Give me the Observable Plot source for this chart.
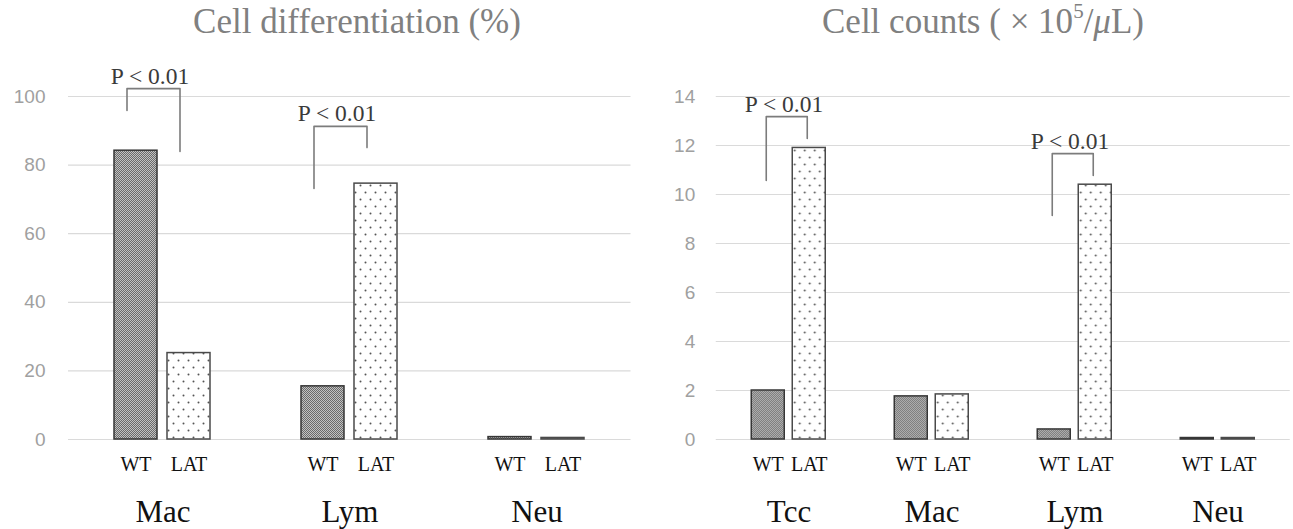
<!DOCTYPE html>
<html>
<head>
<meta charset="utf-8">
<script src="https://cdn.jsdelivr.net/npm/d3@7"></script>
<script src="https://cdn.jsdelivr.net/npm/@observablehq/plot@0.6"></script>
<style>
  html, body { margin: 0; padding: 0; background: #fff; }
  #root { position: relative; width: 1293px; height: 529px; overflow: hidden; }
  .panel { position: absolute; top: 0; height: 529px; }
  .panel svg { position: absolute; left: 0; top: 0; overflow: visible; }
  .title { position: absolute; top: 4px; transform: translateX(-50%); white-space: nowrap;
           font-family: "Liberation Serif", "DejaVu Serif", serif; font-size: 35px; line-height: 35px; color: #808080; }
  .title sup { font-size: 0.6em; vertical-align: 0.7em; line-height: 0; }
  svg.fgplot, svg.fgplot text { font-family: "Liberation Serif", "DejaVu Serif", serif !important; }
  svg.bgplot, svg.bgplot text { font-family: "Liberation Sans", Arial, sans-serif !important; }
</style>
</head>
<body>
<div id="root">
  <div class="title" style="left:357px">Cell differentiation (%)</div>
  <div class="title" style="left:983px">Cell counts ( × 10<sup>5</sup>/<i>μ</i>L)</div>
  <div class="panel" id="left" style="left:0px;width:646px"></div>
  <div class="panel" id="right" style="left:646px;width:647px"></div>
</div>
<svg width="0" height="0" style="position:absolute">
  <defs>
    <pattern id="wtFill" width="2" height="2" patternUnits="userSpaceOnUse">
      <rect width="2" height="2" fill="#c2c2c2"></rect>
      <rect width="1" height="1" fill="#6a6a6a"></rect>
      <rect x="1" y="1" width="1" height="1" fill="#6a6a6a"></rect>
    </pattern>
    <pattern id="latFill" width="10" height="14" patternUnits="userSpaceOnUse">
      <rect width="10" height="14" fill="#ffffff"></rect>
      <circle cx="2.5" cy="3.5" r="1" fill="#555555"></circle>
      <circle cx="7.5" cy="10.5" r="1" fill="#555555"></circle>
    </pattern>
  </defs>
</svg>
<script>
// ---------- data ----------
const groups = ["WT", "LAT"];
const pLabel = "P < 0.01";

const diffCategories = ["Mac", "Lym", "Neu"];
const diffWT  = [84.2, 15.5, 0.7];
const diffLAT = [25.2, 74.6, 0.45];
const diffTicks = [0, 20, 40, 60, 80, 100];
const diffBracketCats = ["Mac", "Lym"];
const diffBracketTop = [102.3, 91.3];
const diffBracketWTEnd = [95.9, 73.2];
const diffBracketLATEnd = [84.0, 85.1];

const countCategories = ["Tcc", "Mac", "Lym", "Neu"];
const countWT  = [2.0, 1.76, 0.41, 0.06];
const countLAT = [11.9, 1.84, 10.4, 0.06];
const countTicks = [0, 2, 4, 6, 8, 10, 12, 14];
const countBracketCats = ["Tcc", "Lym"];
const countBracketTop = [13.18, 11.67];
const countBracketWTEnd = [10.57, 9.14];
const countBracketLATEnd = [12.29, 10.78];

// ---------- helpers ----------
const SERIF = "Liberation Serif, DejaVu Serif, serif";
const SANS = "Liberation Sans, Arial, sans-serif";

function toRows(cats, wt, lat) {
  const rows = [];
  cats.forEach((c, i) => {
    rows.push({cat: c, group: "WT", value: wt[i]});
    rows.push({cat: c, group: "LAT", value: lat[i]});
  });
  return rows;
}
function toBrackets(cats, top, wtEnd, latEnd) {
  const pts = [];
  cats.forEach((c, i) => {
    pts.push({id: i, cat: c, group: "WT", y: wtEnd[i]});
    pts.push({id: i, cat: c, group: "WT", y: top[i]});
    pts.push({id: i, cat: c, group: "LAT", y: top[i]});
    pts.push({id: i, cat: c, group: "LAT", y: latEnd[i]});
  });
  return pts;
}

const H = 529, MT = 96, MB = 90;

function panel(el, cfg) {
  const rows = toRows(cfg.cats, cfg.wt, cfg.lat);
  const brackets = toBrackets(cfg.bcats, cfg.btop, cfg.bwt, cfg.blat);
  const labels = cfg.bcats.map((c, i) => ({cat: c, y: cfg.btop[i]}));

  // background: y axis + gridlines
  const bg = Plot.plot({
    className: "bgplot",
    width: cfg.width, height: H,
    marginTop: MT, marginBottom: MB, marginLeft: cfg.left, marginRight: cfg.right,
    style: {color: "#9a9a9a", background: "transparent"},
    x: {axis: null},
    y: {domain: cfg.domain, axis: null},
    marks: [
      Plot.gridY(cfg.ticks, {stroke: "#dadada", strokeOpacity: 1, strokeWidth: 1.2}),
      Plot.axisY(cfg.ticks, {tickSize: 0, tickPadding: cfg.tickPad, fontSize: 19, fontFamily: SANS, fill: "#a0a0a0", tickFormat: d => String(d), label: null})
    ]
  });

  // foreground: bars, labels, brackets
  const fg = Plot.plot({
    className: "fgplot",
    width: cfg.width, height: H,
    marginTop: MT, marginBottom: MB, marginLeft: cfg.left, marginRight: cfg.right,
    style: {color: "#111", background: "transparent"},
    fx: {domain: cfg.cats, padding: 0, axis: null},
    x: {domain: groups, paddingInner: cfg.pi, paddingOuter: cfg.po, align: 0.5, axis: null},
    y: {domain: cfg.domain, axis: null},
    marks: [
      Plot.barY(rows.filter(d => d.group === "WT"), {fx: "cat", x: "group", y: "value", fill: "url(#wtFill)", stroke: "#363636", strokeWidth: 1.5}),
      Plot.barY(rows.filter(d => d.group === "LAT"), {fx: "cat", x: "group", y: "value", fill: "url(#latFill)", stroke: "#4a4a4a", strokeWidth: 1.5}),
      Plot.line(brackets, {fx: "cat", x: "group", y: "y", z: "id", stroke: "#7c7c7c", strokeWidth: 1.6, dx: cfg.bdx}),
      Plot.text(labels, {fx: "cat", y: "y", text: () => pLabel, lineAnchor: "bottom", dy: -5, dx: cfg.tdx, fontSize: 23.5, fontFamily: SERIF, fill: "#3a3a3a"}),
      Plot.axisX({tickSize: 0, tickPadding: 17.5, fontSize: 20, fontFamily: SERIF, fill: "#111", label: null}),
      Plot.axisFx({anchor: "bottom", tickSize: 0, tickPadding: 60, fontSize: 31, fontFamily: SERIF, fill: "#111", label: null})
    ]
  });

  el.appendChild(bg);
  el.appendChild(fg);
}

panel(document.getElementById("left"), {
  width: 646, cats: diffCategories, wt: diffWT, lat: diffLAT, domain: [0, 100], ticks: diffTicks,
  bcats: diffBracketCats, btop: diffBracketTop, bwt: diffBracketWTEnd, blat: diffBracketLATEnd,
  left: 68, right: 15.5, tickPad: 23, pi: 0.185, po: 0.829, bdx: -9, tdx: -13
});

panel(document.getElementById("right"), {
  width: 647, cats: countCategories, wt: countWT, lat: countLAT, domain: [0, 14], ticks: countTicks,
  bcats: countBracketCats, btop: countBracketTop, bwt: countBracketWTEnd, blat: countBracketLATEnd,
  left: 69.75, right: 3.25, tickPad: 21, pi: 0.193, po: 0.825, bdx: -2, tdx: -5
});
</script>
</body>
</html>
